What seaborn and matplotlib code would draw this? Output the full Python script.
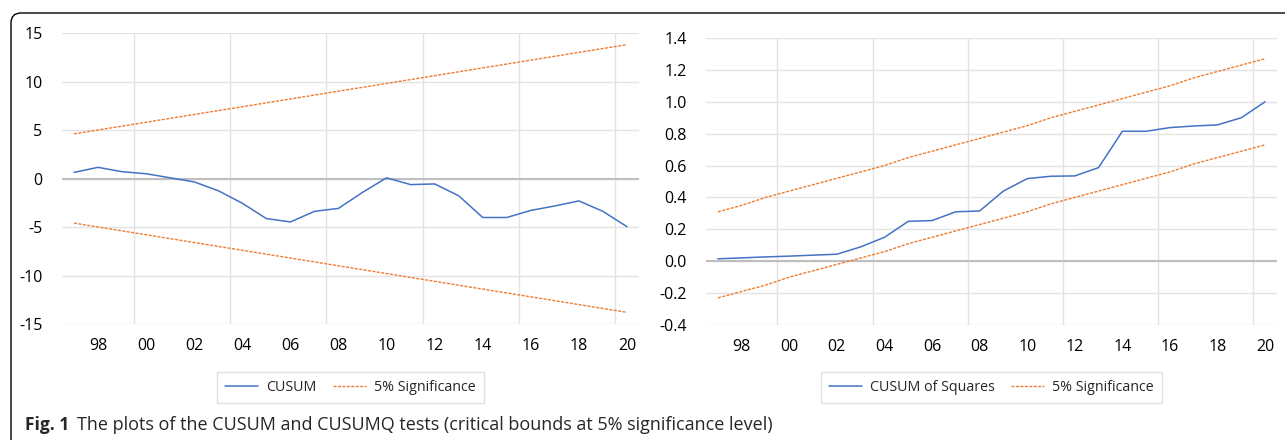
import numpy as np
import pandas as pd
import matplotlib
matplotlib.use("Agg")
import matplotlib.pyplot as plt
import seaborn as sns
from matplotlib.patches import FancyBboxPatch
from matplotlib.transforms import IdentityTransform

# data
years = list(range(1997, 2021))
tick_years = list(range(1998, 2021, 2))
tick_labels = ["98", "00", "02", "04", "06", "08", "10", "12", "14", "16", "18", "20"]
grid_years = [1999.5, 2003.5, 2007.5, 2011.5, 2015.5, 2019.5]

cusum = [0.63, 1.15, 0.70, 0.49, 0.07, -0.35, -1.26, -2.55, -4.13, -4.48, -3.39, -3.08,
         -1.43, 0.07, -0.63, -0.56, -1.78, -4.02, -4.02, -3.29, -2.83, -2.31, -3.39, -4.97]
cusum_upper = [4.6, 5.0, 5.4, 5.8, 6.2, 6.6, 7.0, 7.4, 7.8, 8.2, 8.6, 9.0,
               9.4, 9.8, 10.2, 10.6, 11.0, 11.4, 11.8, 12.2, 12.6, 13.0, 13.4, 13.8]
cusum_lower = [-4.6, -5.0, -5.4, -5.8, -6.2, -6.6, -7.0, -7.4, -7.8, -8.2, -8.6, -9.0,
               -9.4, -9.8, -10.2, -10.6, -11.0, -11.4, -11.8, -12.2, -12.6, -13.0, -13.4, -13.8]

cusumsq = [0.015, 0.021, 0.027, 0.032, 0.038, 0.044, 0.09, 0.15, 0.25, 0.255, 0.31, 0.315,
           0.44, 0.518, 0.533, 0.535, 0.587, 0.815, 0.815, 0.838, 0.848, 0.855, 0.90, 1.0]
sq_upper = [0.31, 0.35, 0.40, 0.44, 0.48, 0.52, 0.56, 0.60, 0.65, 0.69, 0.73, 0.77,
            0.81, 0.85, 0.90, 0.94, 0.98, 1.02, 1.06, 1.10, 1.15, 1.19, 1.23, 1.27]
sq_lower = [-0.23, -0.19, -0.15, -0.10, -0.06, -0.02, 0.02, 0.06, 0.11, 0.15, 0.19, 0.23,
            0.27, 0.31, 0.36, 0.40, 0.44, 0.48, 0.52, 0.56, 0.61, 0.65, 0.69, 0.73]

BLUE = "#4472C4"
ORANGE = "#ED7D31"
GRID = "#E3E3E3"
DASH = (0, (2.2, 1.0))

sns.set_style("white")
plt.rcParams["font.family"] = ["Open Sans", "DejaVu Sans"]

fig = plt.figure(figsize=(12.85, 4.4), dpi=100)
W, H = 1285, 440

def px_axes(x0, x1, ytop, ybot):
    return fig.add_axes([x0 / W, 1 - ybot / H, (x1 - x0) / W, (ybot - ytop) / H])

def style_axes(ax, ylim, yticks, yfmt):
    ax.set_xlim(1996.5, 2020.5)
    ax.set_ylim(*ylim)
    ax.set_xticks(tick_years)
    ax.set_xticklabels(tick_labels)
    ax.set_xticks(grid_years, minor=True)
    ax.set_yticks(yticks)
    ax.set_yticklabels([yfmt.format(v) for v in yticks])
    ax.grid(False)
    ax.grid(True, which="minor", axis="x", color=GRID, lw=1)
    ax.grid(True, which="major", axis="y", color=GRID, lw=1)
    ax.axhline(0, color="#BFBFBF", lw=1.5, zorder=1)
    ax.tick_params(which="both", length=0, labelsize=11.5, colors="black")
    ax.tick_params(axis="x", pad=10)
    ax.tick_params(axis="y", pad=14)
    for s in ax.spines.values():
        s.set_visible(False)
    ax.set_xlabel("")
    ax.set_ylabel("")

def draw(ax, main, upper, lower, main_label):
    df = pd.DataFrame({"year": years, "main": main, "upper": upper, "lower": lower})
    sns.lineplot(data=df, x="year", y="main", ax=ax, color=BLUE, lw=1.1, label=main_label, zorder=3)
    sns.lineplot(data=df, x="year", y="upper", ax=ax, color=ORANGE, lw=1.0,
                 label="5% Significance", zorder=3)
    sns.lineplot(data=df, x="year", y="lower", ax=ax, color=ORANGE, lw=1.0, zorder=3)
    for ln in ax.lines[1:3]:
        ln.set_linestyle(DASH)
    handles, labels = ax.get_legend_handles_labels()
    handles[1].set_linestyle(DASH)
    ax.legend(handles[:2], labels[:2], loc="upper center", bbox_to_anchor=(0.5, -0.165),
              ncol=2, frameon=True, fancybox=False, edgecolor="#D9D9D9", fontsize=10.3,
              handlelength=2.3, columnspacing=1.1, borderpad=0.55, handletextpad=0.6,
              borderaxespad=0)

ax1 = px_axes(62, 639, 33, 324)
draw(ax1, cusum, cusum_upper, cusum_lower, "CUSUM")
style_axes(ax1, (-15, 15), [-15, -10, -5, 0, 5, 10, 15], "{:g}")

ax2 = px_axes(706, 1277, 38, 325)
draw(ax2, cusumsq, sq_upper, sq_lower, "CUSUM of Squares")
style_axes(ax2, (-0.4, 1.4), [-0.4, -0.2, 0.0, 0.2, 0.4, 0.6, 0.8, 1.0, 1.2, 1.4], "{:.1f}")

# rounded frame open at right and bottom
frame = FancyBboxPatch((11, -60), 1400, H - 13 + 60, boxstyle="round,pad=0,rounding_size=10",
                       transform=IdentityTransform(), fill=False, edgecolor="black", lw=1.0)
fig.patches.append(frame)

fig.text(25 / W, 1 - 425 / H, "Fig. 1", fontsize=12.5, fontweight="bold", va="center", ha="left")
fig.text(77 / W, 1 - 425 / H, "The plots of the CUSUM and CUSUMQ tests (critical bounds at 5% significance level)",
         fontsize=13, va="center", ha="left")

fig.savefig("out.png", dpi=100)
